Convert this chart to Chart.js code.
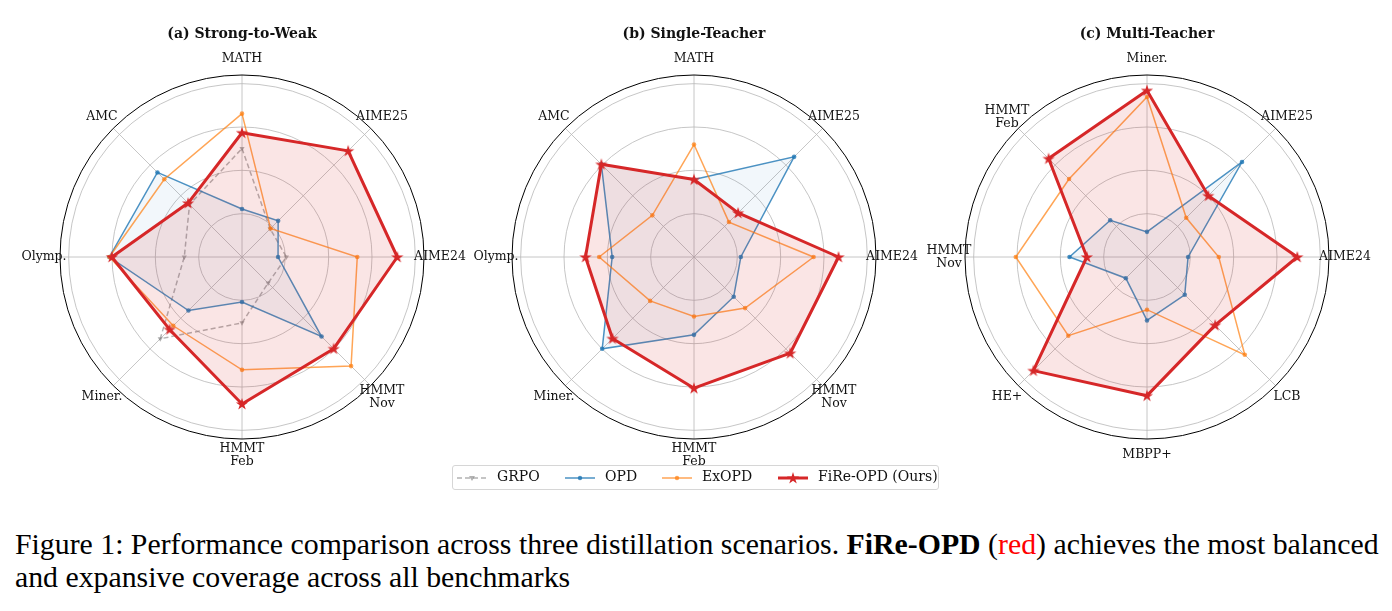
<!DOCTYPE html>
<html>
<head>
<meta charset="utf-8">
<title>FiRe-OPD radar</title>
<script src="https://cdn.jsdelivr.net/npm/chart.js@4.4.1/dist/chart.umd.min.js"></script>
<style>
    html, body { margin: 0; padding: 0; background: #fff; }
    body { position: relative; width: 1392px; height: 611px; overflow: hidden; }
    canvas.radar { position: absolute; }
    #legend {
        position: absolute; left: 452px; top: 465px; width: 485px; height: 23px;
        border: 1px solid #d6d6d6; border-radius: 3px;
        font-family: "DejaVu Serif", serif; font-size: 14px; color: #111;
    }
    #legend .h { position: absolute; top: 6px; }
    #legend .t { position: absolute; top: 2px; white-space: nowrap; }
    #caption {
        position: absolute; left: 15px; top: 527px; white-space: nowrap;
        font-family: "Liberation Serif", "Times New Roman", serif; font-size: 29.8px; line-height: 33px; color: #000;
    }
</style>
</head>
<body>
<canvas id="chartA" class="radar" width="480" height="480" style="left:2px;top:17px"></canvas>
<canvas id="chartB" class="radar" width="480" height="480" style="left:454px;top:17px"></canvas>
<canvas id="chartC" class="radar" width="480" height="480" style="left:907px;top:17px"></canvas>

<div id="legend">
    <svg class="h" style="left:4px" width="30" height="12">
        <line x1="0" y1="6" x2="30" y2="6" stroke="rgba(127,127,127,0.6)" stroke-width="1.5" stroke-dasharray="5,3"/>
        <polygon points="12,4 18,4 15,9" fill="rgba(127,127,127,0.6)"/>
    </svg>
    <span class="t" style="left:44px">GRPO</span>
    <svg class="h" style="left:112px" width="30" height="12">
        <line x1="0" y1="6" x2="30" y2="6" stroke="rgba(31,119,180,0.8)" stroke-width="1.5"/>
        <circle cx="15" cy="6" r="2.2" fill="rgba(31,119,180,0.8)"/>
    </svg>
    <span class="t" style="left:152px">OPD</span>
    <svg class="h" style="left:209px" width="30" height="12">
        <line x1="0" y1="6" x2="30" y2="6" stroke="rgba(255,127,14,0.7)" stroke-width="1.5"/>
        <circle cx="15" cy="6" r="2.2" fill="rgba(255,127,14,0.7)"/>
    </svg>
    <span class="t" style="left:249px">ExOPD</span>
    <svg class="h" style="left:325px;top:3px" width="30" height="18">
        <line x1="0" y1="9" x2="30" y2="9" stroke="#d62728" stroke-width="3"/>
        <polygon id="legendStar" fill="#d62728"/>
    </svg>
    <span class="t" style="left:365px">FiRe-OPD (Ours)</span>
</div>

<div id="caption">Figure 1: Performance comparison across three distillation scenarios. <b>FiRe-OPD</b> (<span style="color:#ff0000">red</span>) achieves the most balanced<br>and expansive coverage across all benchmarks</div>

<script>
// ---- データ（図から読み取った正規化スコア） ----
const labelsA = ['MATH', 'AIME25', 'AIME24', ['HMMT', 'Nov'], ['HMMT', 'Feb'], 'Miner.', 'Olymp.', 'AMC'];
const grpoA  = [0.626, 0.23, 0.256, 0.213, 0.38, 0.667, 0.333, 0.428];
const opdA   = [0.277, 0.295, 0.208, 0.649, 0.26, 0.437, 0.765, 0.69];
const exopdA = [0.827, 0.233, 0.665, 0.89, 0.651, 0.561, 0.765, 0.634];
const fireA  = [0.717, 0.866, 0.896, 0.748, 0.848, 0.591, 0.751, 0.44];

const labelsB = ['MATH', 'AIME25', 'AIME24', ['HMMT', 'Nov'], ['HMMT', 'Feb'], 'Miner.', 'Olymp.', 'AMC'];
const opdB   = [0.447, 0.817, 0.27, 0.324, 0.449, 0.749, 0.472, 0.756];
const exopdB = [0.649, 0.285, 0.69, 0.417, 0.343, 0.358, 0.547, 0.34];
const fireB  = [0.447, 0.36, 0.834, 0.785, 0.757, 0.665, 0.626, 0.756];

const labelsC = ['Miner.', 'AIME25', 'AIME24', 'LCB', 'MBPP+', 'HE+', ['HMMT', 'Nov'], ['HMMT', 'Feb']];
const opdC   = [0.145, 0.775, 0.237, 0.308, 0.366, 0.173, 0.447, 0.30];
const exopdC = [0.923, 0.32, 0.414, 0.798, 0.304, 0.642, 0.757, 0.636];
const fireC  = [0.961, 0.50, 0.867, 0.556, 0.80, 0.927, 0.347, 0.803];

const titles = ['(a) Strong-to-Weak', '(b) Single-Teacher', '(c) Multi-Teacher'];

// matplotlib の '*' マーカー風の星
function starPoints(cx, cy, outer) {
    const inner = outer * 0.382;
    const pts = [];
    for (let i = 0; i < 10; i++) {
        const r = i % 2 === 0 ? outer : inner;
        const a = -Math.PI / 2 + i * Math.PI / 5;
        pts.push([cx + r * Math.cos(a), cy + r * Math.sin(a)]);
    }
    return pts;
}

function makeStar(color) {
    const c = document.createElement('canvas');
    c.width = 14;
    c.height = 14;
    const g = c.getContext('2d');
    g.fillStyle = color;
    g.beginPath();
    starPoints(7, 7.4, 6.4).forEach(([x, y], i) => i ? g.lineTo(x, y) : g.moveTo(x, y));
    g.closePath();
    g.fill();
    return c;
}

document.getElementById('legendStar').setAttribute('points',
    starPoints(15, 9.4, 6.4).map(p => p.join(',')).join(' '));

const redStar = makeStar('#d62728');

// 軸ラベル・タイトル・外枠を描くプラグイン
const radarDecor = {
    id: 'radarDecor',
    afterDraw(chart, args, opts) {
        const scale = chart.scales.r;
        const ctx = chart.ctx;
        ctx.save();
        ctx.strokeStyle = '#000';
        ctx.lineWidth = 1;
        ctx.beginPath();
        ctx.arc(scale.xCenter, scale.yCenter, scale.drawingArea, 0, Math.PI * 2);
        ctx.stroke();

        ctx.fillStyle = '#111';
        ctx.textAlign = 'center';
        ctx.textBaseline = 'middle';
        ctx.font = '12.5px "DejaVu Serif"';
        chart.data.labels.forEach((label, i) => {
            const lines = [].concat(label);
            const p = scale.getPointPosition(i, scale.drawingArea + 16);
            lines.forEach((line, j) => {
                ctx.fillText(line, p.x, p.y + (j - (lines.length - 1) / 2) * 13.3);
            });
        });
        ctx.font = 'bold 14px "DejaVu Serif"';
        ctx.fillText(opts.title, scale.xCenter, scale.yCenter - 223);
        ctx.restore();
    }
};

function series(name, data) {
    if (name === 'GRPO') {
        return {
            label: name, data, order: 3,
            borderColor: 'rgba(127,127,127,0.6)', backgroundColor: 'rgba(127,127,127,0.6)',
            borderWidth: 1.5, borderDash: [5, 3], fill: false,
            pointStyle: 'triangle', pointRotation: 180, pointRadius: 3,
            pointBackgroundColor: 'rgba(127,127,127,0.6)', pointBorderWidth: 0
        };
    }
    if (name === 'OPD') {
        return {
            label: name, data, order: 2,
            borderColor: 'rgba(31,119,180,0.8)', backgroundColor: 'rgba(31,119,180,0.06)',
            borderWidth: 1.5, fill: true,
            pointStyle: 'circle', pointRadius: 2.3,
            pointBackgroundColor: 'rgba(31,119,180,0.8)', pointBorderWidth: 0
        };
    }
    if (name === 'ExOPD') {
        return {
            label: name, data, order: 1,
            borderColor: 'rgba(255,127,14,0.7)', backgroundColor: 'rgba(255,127,14,0.7)',
            borderWidth: 1.5, fill: false,
            pointStyle: 'circle', pointRadius: 2.3,
            pointBackgroundColor: 'rgba(255,127,14,0.7)', pointBorderWidth: 0
        };
    }
    return {
        label: name, data, order: 0,
        borderColor: '#d62728', backgroundColor: 'rgba(214,39,40,0.12)',
        borderWidth: 3, fill: true, borderJoinStyle: 'round',
        pointStyle: redStar, pointRadius: 6, pointBorderWidth: 0
    };
}

function makeRadar(id, labels, datasets, title) {
    const ctx = document.getElementById(id).getContext('2d');
    return new Chart(ctx, {
        type: 'radar',
        data: { labels, datasets },
        options: {
            responsive: false,
            animation: false,
            layout: { padding: 58 },
            elements: { line: { tension: 0 } },
            scales: {
                r: {
                    min: 0,
                    max: 1.05,
                    ticks: { display: false, stepSize: 0.25, includeBounds: false },
                    grid: { circular: true, color: '#b8b8b8', lineWidth: 0.8 },
                    angleLines: { color: '#b8b8b8', lineWidth: 0.8 },
                    pointLabels: { display: false }
                }
            },
            plugins: {
                legend: { display: false },
                tooltip: { enabled: false },
                radarDecor: { title }
            }
        },
        plugins: [radarDecor]
    });
}

makeRadar('chartA', labelsA, [
    series('GRPO', grpoA), series('OPD', opdA), series('ExOPD', exopdA), series('FiRe-OPD', fireA)
], titles[0]);
makeRadar('chartB', labelsB, [
    series('OPD', opdB), series('ExOPD', exopdB), series('FiRe-OPD', fireB)
], titles[1]);
makeRadar('chartC', labelsC, [
    series('OPD', opdC), series('ExOPD', exopdC), series('FiRe-OPD', fireC)
], titles[2]);
</script>
</body>
</html>
